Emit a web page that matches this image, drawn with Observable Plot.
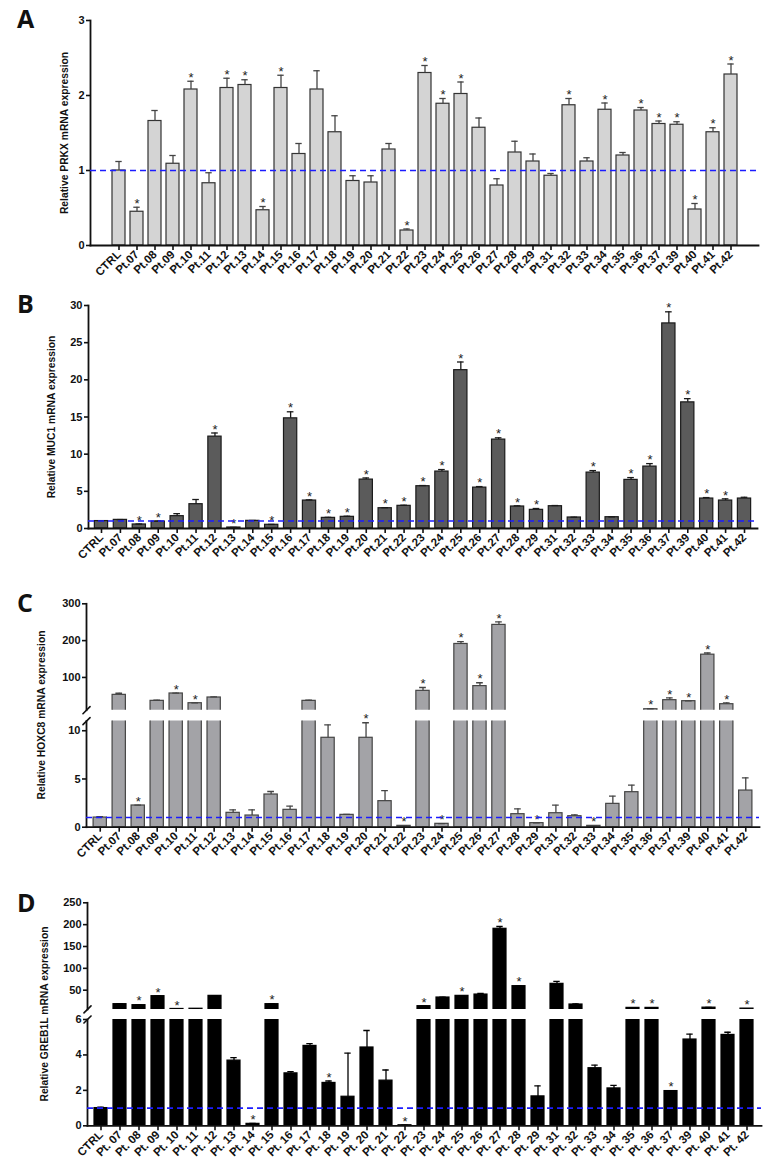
<!DOCTYPE html>
<html>
<head>
<meta charset="utf-8">
<script src="https://cdn.jsdelivr.net/npm/d3@7"></script>
<script src="https://cdn.jsdelivr.net/npm/@observablehq/plot@0.6"></script>
<style>
  body { margin: 0; background: #fff; }
  #root { position: relative; width: 783px; height: 1169px; overflow: hidden; font-family: "Liberation Sans", Arial, Helvetica, sans-serif; color: #111; }
  .letter { position: absolute; font-family: "Open Sans", "Liberation Sans", sans-serif; font-weight: 700; font-size: 25px; line-height: 1; }
  .ylab { position: absolute; white-space: nowrap; font-weight: 700; font-size: 10.3px; line-height: 1; transform: translate(-50%, -50%) rotate(-90deg); }
</style>
</head>
<body>
<div id="root"></div>
<script>
// ---------- categories ----------
const cats = ["CTRL","Pt.07","Pt.08","Pt.09","Pt.10","Pt.11","Pt.12","Pt.13","Pt.14","Pt.15","Pt.16","Pt.17","Pt.18","Pt.19","Pt.20","Pt.21","Pt.22","Pt.23","Pt.24","Pt.25","Pt.26","Pt.27","Pt.28","Pt.29","Pt.31","Pt.32","Pt.33","Pt.34","Pt.35","Pt.36","Pt.37","Pt.39","Pt.40","Pt.41","Pt.42"];
const catsD = ["CTRL","Pt. 07","Pt. 08","Pt. 09","Pt. 10","Pt. 11","Pt. 12","Pt. 13","Pt. 14","Pt. 15","Pt. 16","Pt. 17","Pt. 18","Pt. 19","Pt. 20","Pt. 21","Pt. 22","Pt. 23","Pt. 24","Pt. 25","Pt. 26","Pt. 27","Pt. 28","Pt. 29","Pt. 31","Pt. 32","Pt. 33","Pt. 34","Pt. 35","Pt. 36","Pt. 37","Pt. 39","Pt. 40","Pt. 41","Pt. 42"];

// ---------- A: PRKX ----------
const prkx      = [1.00,0.45,1.66,1.09,2.08,0.83,2.10,2.14,0.47,2.10,1.22,2.08,1.51,0.86,0.84,1.28,0.20,2.30,1.89,2.02,1.57,0.80,1.24,1.12,0.93,1.87,1.12,1.81,1.20,1.80,1.62,1.61,0.48,1.51,2.28];
const prkxUpper = [1.12,0.51,1.80,1.20,2.19,0.97,2.23,2.21,0.52,2.27,1.36,2.33,1.73,0.93,0.93,1.36,0.22,2.40,1.96,2.18,1.70,0.89,1.39,1.22,0.96,1.96,1.17,1.90,1.24,1.84,1.66,1.65,0.56,1.57,2.42];
const prkxSig   = ["Pt.07","Pt.10","Pt.12","Pt.13","Pt.14","Pt.15","Pt.22","Pt.23","Pt.24","Pt.25","Pt.32","Pt.34","Pt.36","Pt.37","Pt.39","Pt.40","Pt.41","Pt.42"];
const prkxTicks = [0,1,2,3];

// ---------- B: MUC1 ----------
const muc1      = [1.00,1.16,0.54,0.94,1.66,3.27,12.36,0.13,1.03,0.50,14.82,3.76,1.43,1.57,6.58,2.73,3.05,5.69,7.66,21.30,5.50,11.96,2.96,2.51,3.00,1.48,7.52,1.52,6.54,8.33,27.59,16.97,4.03,3.76,4.03];
const muc1Upper = [1.05,1.20,0.60,1.00,2.00,3.90,12.85,0.15,1.08,0.55,15.70,3.85,1.50,1.65,6.80,2.80,3.13,5.78,7.93,22.40,5.64,12.20,3.05,2.69,3.09,1.52,7.79,1.56,6.85,8.73,29.15,17.47,4.16,3.99,4.20];
const muc1Sig   = ["Pt.08","Pt.09","Pt.12","Pt.13","Pt.15","Pt.16","Pt.17","Pt.18","Pt.19","Pt.20","Pt.21","Pt.22","Pt.23","Pt.24","Pt.25","Pt.26","Pt.27","Pt.28","Pt.29","Pt.33","Pt.35","Pt.36","Pt.37","Pt.39","Pt.40","Pt.41"];
const muc1Ticks = [0,5,10,15,20,25,30];

// ---------- C: HOXC8 (broken axis) ----------
const hoxc8      = [1.00,52.7,2.25,36.4,56.4,30.0,45.5,1.49,1.21,3.39,1.80,36.4,9.27,1.28,9.27,2.70,0.14,63.6,0.35,190.9,76.4,242.7,1.35,0.42,1.45,1.14,0.14,2.42,3.63,13.6,38.2,35.5,161.8,27.3,3.80];
const hoxc8Upper = [1.10,57.0,2.28,38.0,57.5,31.0,47.0,1.80,1.80,3.70,2.18,38.0,10.6,1.32,10.83,3.80,0.16,72.7,0.38,197.0,85.5,250.9,1.90,0.45,2.28,1.28,0.16,3.22,4.36,15.0,44.5,36.4,166.4,30.9,5.12];
const hoxc8Sig   = ["Pt.08","Pt.10","Pt.11","Pt.20","Pt.22","Pt.23","Pt.24","Pt.25","Pt.26","Pt.27","Pt.29","Pt.33","Pt.36","Pt.37","Pt.39","Pt.40","Pt.41"];
const hoxc8TicksTop = [100,200,300];
const hoxc8TicksBottom = [0,5,10];

// ---------- D: GREB1L (broken axis) ----------
const greb1l      = [1.00,18.0,15.7,36.3,7.0,7.5,37.0,3.68,0.11,18.0,2.96,4.51,2.42,1.64,4.42,2.55,0.03,13.4,33.2,37.0,40.0,190.5,59.2,1.66,64.5,17.2,3.25,2.11,9.5,9.5,1.96,4.87,10.0,5.13,7.8];
const greb1lUpper = [1.05,19.0,16.5,37.0,7.2,7.7,37.5,3.85,0.13,19.0,3.06,4.64,2.53,4.10,5.38,3.15,0.04,14.0,34.0,37.5,42.4,195.8,60.0,2.25,70.0,18.7,3.42,2.28,9.7,9.7,1.99,5.17,10.5,5.28,8.0];
const greb1lSig   = ["Pt. 08","Pt. 09","Pt. 10","Pt. 14","Pt. 15","Pt. 18","Pt. 22","Pt. 23","Pt. 25","Pt. 27","Pt. 28","Pt. 35","Pt. 36","Pt. 37","Pt. 40","Pt. 42"];
const greb1lTicksTop = [50,100,150,200,250];
const greb1lTicksBottom = [0,2,4,6];

const yLabels = ["Relative PRKX mRNA expression","Relative MUC1 mRNA expression","Relative HOXC8 mRNA expression","Relative GREB1L mRNA expression"];
const letters = ["A","B","C","D"];

// ---------- drawing ----------
const root = document.getElementById("root");
const FONT = '"Liberation Sans", Arial, Helvetica, sans-serif';
const slashShape = { draw(context, l) { context.moveTo(0, 0); context.lineTo(0, -l); } };

function segment(o) {
  const rows = o.cats.map((c, i) => ({cat: c, v: o.values[i], hi: o.upper[i], star: o.sig.includes(c)}));
  const [y0] = o.domain;
  const barsIn = rows.filter(d => y0 === 0 || d.v > y0);
  const errIn = rows.filter(d => y0 === 0 || d.hi > y0);
  const marks = [
    Plot.barY(barsIn, {x: "cat", y: "v", fill: o.fill, stroke: o.stroke, strokeWidth: 1.2, clip: true}),
    Plot.ruleX(errIn, {x: "cat", y1: "v", y2: "hi", stroke: o.err, strokeWidth: 1.3, clip: true}),
    Plot.tickY(errIn, {x: "cat", y: "hi", stroke: o.err, strokeWidth: 1.3, inset: 3.3, clip: true}),
    Plot.text(rows.filter(d => d.star && o.starIn(d)), {x: "cat", y: "hi", text: () => "*", dy: -3.5, fontSize: 13, fontWeight: "normal", fill: "#222"}),
    Plot.frame({anchor: "left", stroke: "#111", strokeWidth: 1.8}),
    Plot.axisY({ticks: o.ticks, tickFormat: d => String(d), tickSize: 4, tickPadding: 2, label: null, fontSize: 11, fontWeight: "bold", strokeWidth: 1.6})
  ];
  if (o.refLine) marks.push(Plot.ruleY([1], {stroke: "#1c1cff", strokeWidth: 1.6, strokeDasharray: "6,4"}));
  if (o.xAxis) {
    marks.push(Plot.frame({anchor: "bottom", stroke: "#111", strokeWidth: 1.8}));
    marks.push(Plot.axisX({tickSize: 5, tickRotate: -45, tickPadding: 2, label: null, fontSize: 11.5, fontWeight: "bold", strokeWidth: 1.6}));
  }
  if (o.slash) marks.push(Plot.vector([0], {frameAnchor: o.slash, length: 10, rotate: 45, anchor: "middle", shape: slashShape, stroke: "#111", strokeWidth: 1.6}));
  const svg = Plot.plot({
    width: 783, height: o.height,
    marginTop: o.mt, marginBottom: o.mb, marginLeft: o.ml, marginRight: o.mr,
    x: Object.assign({type: "band", domain: o.cats, padding: 0.3, insetLeft: o.inset, insetRight: o.inset}, o.xAxis ? {} : {axis: null}),
    y: {domain: o.domain},
    style: {fontFamily: FONT, fontWeight: "bold", fontSize: "11px", overflow: "visible", background: "transparent", color: "#111"},
    marks
  });
  svg.style.position = "absolute";
  svg.style.left = "0px";
  svg.style.top = o.top + "px";
  root.appendChild(svg);
}
const all = () => true;

// Panel A
segment({cats, values: prkx, upper: prkxUpper, sig: prkxSig, ticks: prkxTicks, domain: [0, 3],
  top: 0, height: 290, mt: 20, mb: 45, ml: 90, mr: 25, inset: 1.8,
  fill: "#d4d4d4", stroke: "#333", err: "#444", refLine: true, xAxis: true, starIn: all});

// Panel B
segment({cats, values: muc1, upper: muc1Upper, sig: muc1Sig, ticks: muc1Ticks, domain: [0, 30],
  top: 290, height: 290, mt: 15, mb: 52, ml: 88, mr: 26, inset: 0.7,
  fill: "#5b5b5b", stroke: "#1a1a1a", err: "#1a1a1a", refLine: true, xAxis: true, starIn: all});

// Panel C (upper / lower segments)
segment({cats, values: hoxc8, upper: hoxc8Upper, sig: hoxc8Sig, ticks: hoxc8TicksTop, domain: [11, 300],
  top: 590, height: 125, mt: 13.3, mb: 5.3, ml: 86, mr: 24, inset: 1.4,
  fill: "#a3a3a7", stroke: "#444", err: "#444", refLine: false, xAxis: false, slash: "bottom-left", starIn: d => d.hi > 11});
segment({cats, values: hoxc8, upper: hoxc8Upper, sig: hoxc8Sig, ticks: hoxc8TicksBottom, domain: [0, 11],
  top: 715, height: 165, mt: 5.6, mb: 53.3, ml: 86, mr: 24, inset: 1.4,
  fill: "#a3a3a7", stroke: "#444", err: "#444", refLine: true, xAxis: true, slash: "top-left", starIn: d => d.hi <= 11});

// Panel D (upper / lower segments)
segment({cats: catsD, values: greb1l, upper: greb1lUpper, sig: greb1lSig, ticks: greb1lTicksTop, domain: [6, 250],
  top: 890, height: 124, mt: 12.3, mb: 5.1, ml: 87, mr: 22, inset: 0.5,
  fill: "#000", stroke: "#000", err: "#000", refLine: false, xAxis: false, slash: "bottom-left", starIn: d => d.hi > 6});
segment({cats: catsD, values: greb1l, upper: greb1lUpper, sig: greb1lSig, ticks: greb1lTicksBottom, domain: [0, 6],
  top: 1014, height: 155, mt: 5, mb: 43.7, ml: 87, mr: 22, inset: 0.5,
  fill: "#000", stroke: "#000", err: "#000", refLine: true, xAxis: true, slash: "top-left", starIn: d => d.hi <= 6});

// Panel letters and y-axis titles (HTML text)
const letterTops = [5.8, 290.8, 589.8, 889.8];
letters.forEach((t, i) => {
  const d = document.createElement("div");
  d.className = "letter"; d.textContent = t;
  d.style.left = "17px"; d.style.top = letterTops[i] + "px";
  root.appendChild(d);
});
const labelCenters = [[65, 132.5], [52, 416.5], [42, 715], [45, 1014]];
yLabels.forEach((t, i) => {
  const d = document.createElement("div");
  d.className = "ylab"; d.textContent = t;
  d.style.left = labelCenters[i][0] + "px"; d.style.top = labelCenters[i][1] + "px";
  root.appendChild(d);
});
</script>
</body>
</html>
